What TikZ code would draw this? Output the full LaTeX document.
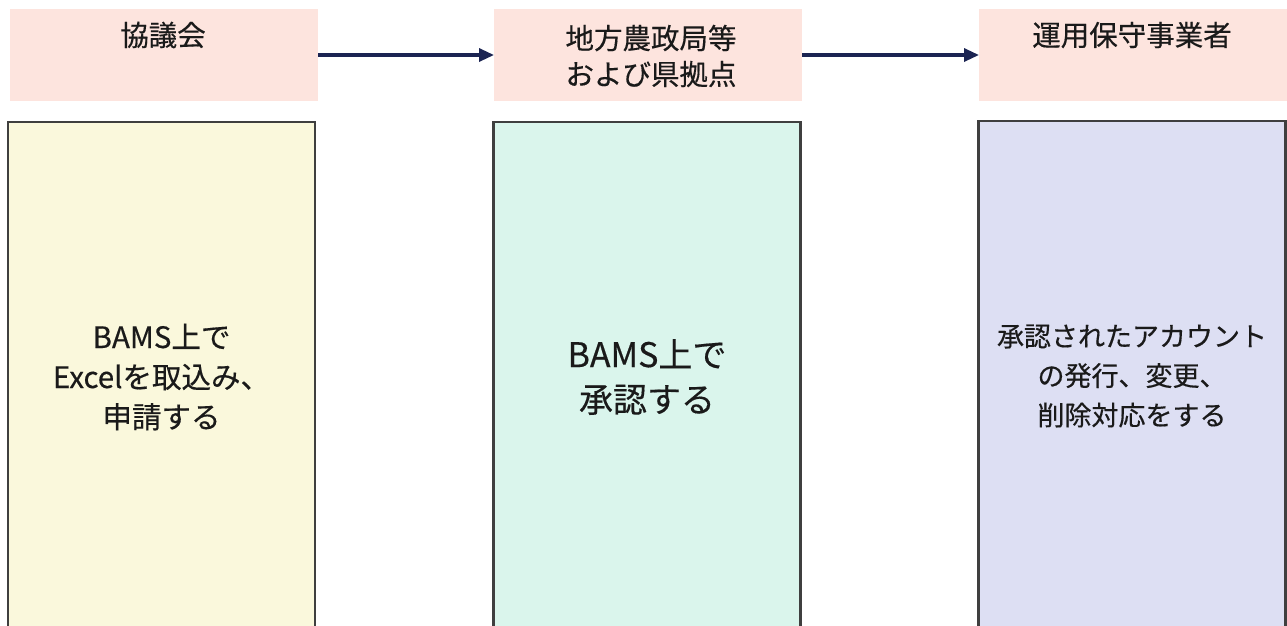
\documentclass[tikz,border=0pt]{standalone}
\usepackage{fontspec}
\setmainfont{Noto Sans CJK JP}[FakeBold=0.4]
\usetikzlibrary{arrows.meta}
\definecolor{hdrfill}{HTML}{FDE4DE}
\definecolor{fillA}{HTML}{FAF8DC}
\definecolor{fillB}{HTML}{DAF5EC}
\definecolor{fillC}{HTML}{DDDFF3}
\definecolor{edgegray}{HTML}{3F3F3F}
\definecolor{arrownavy}{HTML}{1B2452}
\definecolor{txt}{HTML}{1A1A1A}
\tikzset{
  hdr/.style={draw=none, fill=hdrfill, minimum width=308pt, minimum height=92pt, inner sep=0pt, outer sep=0pt},
  colbox/.style={draw=edgegray, line width=2.2pt, minimum width=307pt, minimum height=510pt, inner sep=0pt, text=txt, align=center},
  hdrtext/.style={text=txt, align=center, inner sep=0pt},
  flow/.style={draw=arrownavy, line width=3.2pt, -{Triangle[length=15pt,width=13pt]}}
}
\begin{document}
\begin{tikzpicture}[x=1pt,y=-1pt]
\useasboundingbox (0,0) rectangle (1287,625);
\clip (0,0) rectangle (1287,625);
\fill[white] (0,0) rectangle (1287,625);
% header boxes
\node[hdr] (h1) at (164,55) {};
\node[hdr] (h2) at (648,55) {};
\node[hdr, minimum width=310pt] (h3) at (1134,55) {};
% header texts
\node[hdrtext, font=\fontsize{28.5}{36}\selectfont] (t1) at (163,35) {協議会};
\node[hdrtext, font=\fontsize{28.5}{36}\selectfont] (t2) at (651,56) {地方農政局等\\およ\hspace{0pt}び県拠点};
\node[hdrtext, font=\fontsize{28.5}{36}\selectfont] (t3) at (1132,35) {運用保守事業者};
% arrows
\draw[flow] (h1.east) -- (h2.west);
\draw[flow] (h2.east) -- (h3.west);
% column boxes
\node[colbox, fill=fillA, font=\fontsize{29.5}{40}\selectfont] (b1) at (161.5,377) {BAMS上で\\Excelを取込み、\\申請する};
\node[colbox, fill=fillB, font=\fontsize{34}{45}\selectfont] (b2) at (647,377) {BAMS上で\\承認する};
\node[colbox, fill=fillC, font=\fontsize{27}{39.5}\selectfont] (b3) at (1132,376) {承認されたアカウント\\の発行、変更、\\削除対応をする};
\end{tikzpicture}
\end{document}
